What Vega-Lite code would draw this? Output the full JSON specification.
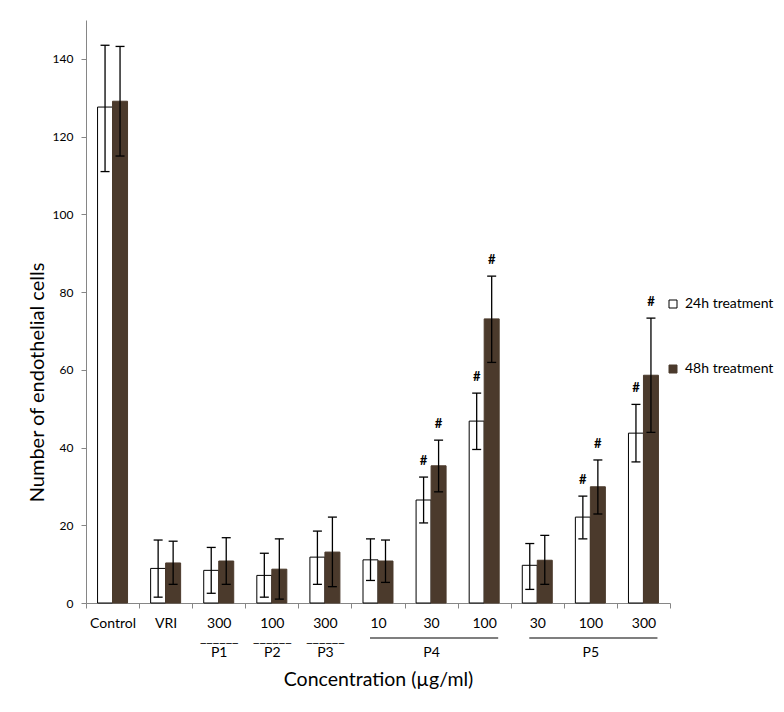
{
  "$schema": "https://vega.github.io/schema/vega-lite/v6.json",
  "autosize": {"type": "none"},
  "padding": {"left": 86, "top": 20, "right": 114, "bottom": 109},
  "width": 584,
  "height": 583,
  "config": {
    "font": "Lato",
    "view": {"stroke": null},
    "axis": {"labelColor": "#000000", "titleColor": "#000000", "domainColor": "#868686", "tickColor": "#868686", "grid": false, "titleFontWeight": "normal"}
  },
  "datasets": {
    "bars": [
      {"key": "Control", "treatment": "24h treatment", "value": 127.6, "lo": 111.0, "hi": 143.5, "sig": ""},
      {"key": "Control", "treatment": "48h treatment", "value": 129.1, "lo": 115.0, "hi": 143.2, "sig": ""},
      {"key": "VRI", "treatment": "24h treatment", "value": 8.9, "lo": 1.5, "hi": 16.2, "sig": ""},
      {"key": "VRI", "treatment": "48h treatment", "value": 10.3, "lo": 4.8, "hi": 15.9, "sig": ""},
      {"key": "300|______|P1", "treatment": "24h treatment", "value": 8.4, "lo": 2.5, "hi": 14.3, "sig": ""},
      {"key": "300|______|P1", "treatment": "48h treatment", "value": 10.8, "lo": 4.8, "hi": 16.8, "sig": ""},
      {"key": "100|______|P2", "treatment": "24h treatment", "value": 7.1, "lo": 1.5, "hi": 12.8, "sig": ""},
      {"key": "100|______|P2", "treatment": "48h treatment", "value": 8.7, "lo": 1.0, "hi": 16.5, "sig": ""},
      {"key": "300|______|P3", "treatment": "24h treatment", "value": 11.8, "lo": 4.8, "hi": 18.5, "sig": ""},
      {"key": "300|______|P3", "treatment": "48h treatment", "value": 13.1, "lo": 4.2, "hi": 22.1, "sig": ""},
      {"key": "10", "treatment": "24h treatment", "value": 11.1, "lo": 5.8, "hi": 16.5, "sig": ""},
      {"key": "10", "treatment": "48h treatment", "value": 10.8, "lo": 5.3, "hi": 16.2, "sig": ""},
      {"key": "30|\u200b|P4", "treatment": "24h treatment", "value": 26.5, "lo": 20.6, "hi": 32.4, "sig": "#"},
      {"key": "30|\u200b|P4", "treatment": "48h treatment", "value": 35.3, "lo": 28.6, "hi": 41.9, "sig": "#"},
      {"key": "100", "treatment": "24h treatment", "value": 46.8, "lo": 39.5, "hi": 54.0, "sig": "#"},
      {"key": "100", "treatment": "48h treatment", "value": 73.1, "lo": 61.9, "hi": 84.1, "sig": "#"},
      {"key": "30", "treatment": "24h treatment", "value": 9.7, "lo": 3.5, "hi": 15.3, "sig": ""},
      {"key": "30", "treatment": "48h treatment", "value": 11.0, "lo": 4.8, "hi": 17.4, "sig": ""},
      {"key": "100|\u200b|P5", "treatment": "24h treatment", "value": 22.1, "lo": 16.5, "hi": 27.5, "sig": "#"},
      {"key": "100|\u200b|P5", "treatment": "48h treatment", "value": 29.9, "lo": 22.9, "hi": 36.8, "sig": "#"},
      {"key": "300", "treatment": "24h treatment", "value": 43.7, "lo": 36.3, "hi": 51.1, "sig": "#"},
      {"key": "300", "treatment": "48h treatment", "value": 58.6, "lo": 43.9, "hi": 73.3, "sig": "#"}
    ],
    "groups": [
      {"from": "10", "to": "100", "group": "P4"},
      {"from": "30", "to": "300", "group": "P5"}
    ]
  },
  "layer": [
    {
      "data": {"name": "bars"},
      "mark": {"type": "bar", "strokeWidth": 1},
      "encoding": {
        "x": {
          "field": "key", "type": "nominal", "sort": null,
          "scale": {"paddingInner": 0, "paddingOuter": 0},
          "axis": {
            "title": "Concentration (µg/ml)",
            "labelExpr": "datum.value ? split(datum.value, '|') : ''",
            "labelAngle": 0,
            "labelFontSize": 14,
            "labelLineHeight": 14.5,
            "labelPadding": 8,
            "labelBaseline": "top",
            "labelOverlap": false,
            "tickBand": "extent",
            "tickSize": 5,
            "titleFontSize": 19.5,
            "titleBaseline": "alphabetic",
            "titleY": 82
          }
        },
        "xOffset": {"field": "treatment", "type": "nominal", "scale": {"paddingInner": 0, "paddingOuter": 0.77}},
        "y": {
          "field": "value", "type": "quantitative",
          "scale": {"domain": [0, 150], "nice": false},
          "axis": {
            "title": "Number of endothelial cells",
            "values": [0, 20, 40, 60, 80, 100, 120, 140],
            "labelFontSize": 12,
            "labelPadding": 8,
            "tickSize": 5,
            "titleFontSize": 20,
            "titleBaseline": "alphabetic",
            "titleX": -43,
            "titleY": 362
          }
        },
        "fill": {
          "field": "treatment", "type": "nominal",
          "scale": {"range": ["#ffffff", "#4b3a2c"]},
          "legend": {
            "title": null, "orient": "none", "legendX": 580, "legendY": 277,
            "symbolType": "square", "symbolSize": 64, "symbolStrokeWidth": 1,
            "labelFontSize": 14, "labelOffset": 5, "rowPadding": 51, "padding": 0
          }
        },
        "stroke": {
          "field": "treatment", "type": "nominal",
          "scale": {"range": ["#000000", "#4b3a2c"]}
        }
      }
    },
    {
      "data": {"name": "bars"},
      "mark": {"type": "rule", "color": "#000000", "strokeWidth": 1.3},
      "encoding": {
        "x": {"field": "key", "type": "nominal", "sort": null},
        "xOffset": {"field": "treatment", "type": "nominal"},
        "y": {"field": "lo", "type": "quantitative"},
        "y2": {"field": "hi"}
      }
    },
    {
      "data": {"name": "bars"},
      "mark": {"type": "tick", "color": "#000000", "thickness": 1.3, "size": 9, "opacity": 1},
      "encoding": {
        "x": {"field": "key", "type": "nominal", "sort": null},
        "xOffset": {"field": "treatment", "type": "nominal"},
        "y": {"field": "lo", "type": "quantitative"}
      }
    },
    {
      "data": {"name": "bars"},
      "mark": {"type": "tick", "color": "#000000", "thickness": 1.3, "size": 9, "opacity": 1},
      "encoding": {
        "x": {"field": "key", "type": "nominal", "sort": null},
        "xOffset": {"field": "treatment", "type": "nominal"},
        "y": {"field": "hi", "type": "quantitative"}
      }
    },
    {
      "data": {"name": "bars"},
      "mark": {"type": "text", "fontWeight": "bold", "fontSize": 13, "dy": -9, "baseline": "bottom", "color": "#000000"},
      "encoding": {
        "x": {"field": "key", "type": "nominal", "sort": null},
        "xOffset": {"field": "treatment", "type": "nominal"},
        "y": {"field": "hi", "type": "quantitative"},
        "text": {"field": "sig"}
      }
    },
    {
      "data": {"name": "groups"},
      "mark": {"type": "rule", "color": "#000000", "strokeWidth": 1.2, "xOffset": -8, "x2Offset": 14, "y": {"expr": "height + 35"}, "clip": false},
      "encoding": {
        "x": {"field": "from", "type": "nominal", "sort": null},
        "x2": {"field": "to"}
      }
    }
  ]
}
